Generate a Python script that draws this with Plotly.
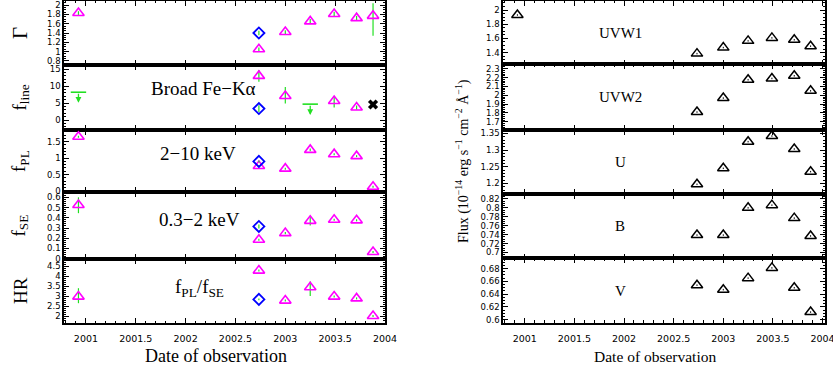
import plotly.graph_objects as go

# ---------------- data ----------------
dates = [2000.925, 2002.735, 2003.0, 2003.25, 2003.49, 2003.715, 2003.88]
dates_uv = [2002.735, 2003.0, 2003.25, 2003.49, 2003.715, 2003.88]
date_xmm = [2002.735]

# Gamma
gamma = [1.83, 1.05, 1.42, 1.65, 1.81, 1.72, 1.77]
gamma_ep = [0.04, 0.04, 0.04, 0.05, 0.05, 0.05, 0.27]
gamma_em = [0.04, 0.04, 0.04, 0.05, 0.05, 0.05, 0.43]
gamma_d = [1.40]
gamma_d_err = [0.05]

# f_line (broad Fe-K alpha)
fline_dates = [2002.735, 2003.0, 2003.49, 2003.715]
fline = [13.0, 7.1, 5.6, 3.7]
fline_ep = [1.7, 2.6, 1.5, 0.6]
fline_em = [1.7, 2.2, 1.9, 0.6]
fline_d = [3.4]
fline_d_err = [1.0]
fline_ul_dates = [2000.925, 2003.25]
fline_ul = [8.2, 4.7]
fline_ul_tip = [5.1, 1.5]
fline_x_dates = [2003.88]
fline_x = [4.6]

# f_PL (2-10 keV)
fpl = [1.65, 0.76, 0.68, 1.25, 1.12, 1.06, 0.13]
fpl_err = [0.03, 0.03, 0.03, 0.04, 0.03, 0.03, 0.03]
fpl_d = [0.90]
fpl_d_err = [0.03]

# f_SE (0.3-2 keV)
fse = [0.525, 0.185, 0.25, 0.37, 0.38, 0.375, 0.065]
fse_ep = [0.075, 0.01, 0.01, 0.045, 0.01, 0.01, 0.01]
fse_em = [0.08, 0.01, 0.01, 0.045, 0.01, 0.01, 0.01]
fse_d = [0.315]
fse_d_err = [0.02]

# HR = f_PL / f_SE
hr = [2.97, 4.27, 2.77, 3.44, 2.97, 2.88, 2.0]
hr_ep = [0.42, 0.05, 0.05, 0.28, 0.05, 0.05, 0.05]
hr_em = [0.33, 0.05, 0.05, 0.44, 0.05, 0.05, 0.05]
hr_d = [2.83]
hr_d_err = [0.04]

# Optical / UV fluxes (1e-14 erg/s/cm2/A)
uvw1 = [1.93, 1.385, 1.47, 1.565, 1.607, 1.58, 1.49]
uvw2 = [1.81, 1.968, 2.175, 2.19, 2.22, 2.05]
u_flux = [1.197, 1.245, 1.325, 1.342, 1.303, 1.235]
b_flux = [0.739, 0.739, 0.800, 0.806, 0.777, 0.737]
v_flux = [0.654, 0.647, 0.665, 0.681, 0.650, 0.612]

left_labels = ["Broad Fe\u2212K\u03b1", "2\u221210 keV", "0.3\u22122 keV", "f<sub>PL</sub>/f<sub>SE</sub>"]
left_titles = ["\u0393", "f<sub>line</sub>", "f<sub>PL</sub>", "f<sub>SE</sub>", "HR"]
right_labels = ["UVW1", "UVW2", "U", "B", "V"]

# ---------------- styling ----------------
W, H = 833, 373
MAG = "#ff00ff"
BLUE = "#0000ff"
GREEN = "#22e022"
SERIF = "Liberation Serif"
SANS = "DejaVu Sans"

left_bounds = [1, 65, 130, 192, 259, 323]
right_bounds = [1, 64.3, 130, 194, 258.3, 322.7]
left_x = [64, 385]
right_x = [503, 825]

left_yr = [[0.71, 2.09], [-2.9, 16.2], [-0.03, 1.855], [-0.003, 0.652], [1.65, 4.85]]
left_dt = [(0.2, 0.05), (5, 1), (0.5, 0.1), (0.1, 0.02), (0.5, 0.1)]
right_yr = [[1.234, 2.128], [1.607, 2.35], [1.168, 1.36], [0.687, 0.831], [0.5954, 0.696]]
right_dt = [(0.2, 0.05), (0.1, 0.02), (0.05, 0.01), (0.02, 0.005), (0.02, 0.005)]

fig = go.Figure()


def px_x(p):
    return p / W


def px_y(p):
    return 1 - p / H


layout = dict(width=W, height=H, margin=dict(l=0, r=0, t=0, b=0, autoexpand=False), autosize=False,
              paper_bgcolor="white", plot_bgcolor="white", showlegend=False)


def xaxis(n, xs, show):
    return dict(domain=[px_x(xs[0]), px_x(xs[1])], range=[2000.78, 2004.0 if xs is left_x else 2004.025],
                anchor=f"y{n}", showline=True, linecolor="black", linewidth=1.5,
                mirror="allticks", ticks="inside", ticklen=5, tickwidth=1.2, tickcolor="black",
                tick0=2001, dtick=0.5, tickformat="~g", ticklabelstandoff=6, ticklabeloverflow="allow",
                minor=dict(dtick=0.1, ticks="inside", ticklen=2.5, tickwidth=1, tickcolor="black", showgrid=False),
                showticklabels=show, showgrid=False, zeroline=False,
                tickfont=dict(family=SANS, size=9.5, color="black"))


def yaxis(n, bounds, k, yr, dt, xname):
    return dict(domain=[px_y(bounds[k + 1]), px_y(bounds[k])], range=yr, anchor=xname,
                showline=True, linecolor="black", linewidth=1.5, mirror="allticks",
                ticks="inside", ticklen=5, tickwidth=1.2, tickcolor="black",
                dtick=dt[0], tick0=0, ticklabeloverflow="allow",
                minor=dict(dtick=dt[1], ticks="inside", ticklen=2.5, tickwidth=1, tickcolor="black", showgrid=False),
                showgrid=False, zeroline=False,
                tickfont=dict(family=SANS, size=8.5, color="black"))


for k in range(5):
    n = k + 1
    layout[f"xaxis{n}"] = xaxis(n, left_x, k == 4)
    layout[f"yaxis{n}"] = yaxis(n, left_bounds, k, left_yr[k], left_dt[k], f"x{n}")
    m = k + 6
    layout[f"xaxis{m}"] = xaxis(m, right_x, k == 4)
    layout[f"yaxis{m}"] = yaxis(m, right_bounds, k, right_yr[k], right_dt[k], f"x{m}")

fig.update_layout(**layout)


def ax(n):
    return dict(xaxis=f"x{n}", yaxis=f"y{n}")


def tri(n, x, y, ep, em):
    fig.add_trace(go.Scatter(x=x, y=y, mode="markers", **ax(n),
                             marker=dict(symbol="triangle-up-open", size=10, color=MAG, line=dict(width=1.6, color=MAG)),
                             error_y=dict(type="data", array=ep, arrayminus=em, symmetric=False,
                                          color=GREEN, thickness=1.2, width=0)))


def dia(n, x, y, e):
    fig.add_trace(go.Scatter(x=x, y=y, mode="markers", **ax(n),
                             marker=dict(symbol="diamond-open", size=8.5, color=BLUE, line=dict(width=1.8, color=BLUE)),
                             error_y=dict(type="data", array=e, color=GREEN, thickness=1.2, width=0)))


# Left column
tri(1, dates, gamma, gamma_ep, gamma_em)
dia(1, date_xmm, gamma_d, gamma_d_err)

tri(2, fline_dates, fline, fline_ep, fline_em)
dia(2, date_xmm, fline_d, fline_d_err)
fig.add_trace(go.Scatter(x=fline_ul_dates, y=fline_ul, mode="markers", **ax(2),
                         marker=dict(symbol="line-ew-open", size=11, color=GREEN, line=dict(width=1.6, color=GREEN))))
for xd, lim, tip in zip(fline_ul_dates, fline_ul, fline_ul_tip):
    fig.add_annotation(x=xd, y=tip, ax=xd, ay=lim, xref="x2", yref="y2", axref="x2", ayref="y2",
                       showarrow=True, arrowhead=2, arrowsize=0.9, arrowwidth=1.3, arrowcolor=GREEN, text="")
fig.add_trace(go.Scatter(x=fline_x_dates, y=fline_x, mode="markers", **ax(2),
                         marker=dict(symbol="x", size=9, color="black", line=dict(width=0))))

tri(3, dates, fpl, fpl_err, fpl_err)
dia(3, date_xmm, fpl_d, fpl_d_err)

tri(4, dates, fse, fse_ep, fse_em)
dia(4, date_xmm, fse_d, fse_d_err)

tri(5, dates, hr, hr_ep, hr_em)
dia(5, date_xmm, hr_d, hr_d_err)

# Right column
right_series = [(dates, uvw1), (dates_uv, uvw2), (dates_uv, u_flux), (dates_uv, b_flux), (dates_uv, v_flux)]
for k, (xx, yy) in enumerate(right_series):
    n = k + 6
    span = right_yr[k][1] - right_yr[k][0]
    fig.add_trace(go.Scatter(x=xx, y=yy, mode="markers", **ax(n),
                             marker=dict(symbol="triangle-up-open", size=10, color="black", line=dict(width=1.5, color="black")),
                             error_y=dict(type="data", array=[span * 0.012] * len(yy), color="black", thickness=1, width=0)))


def label(xp, yp, text, size, angle=0):
    fig.add_annotation(x=px_x(xp), y=px_y(yp), xref="paper", yref="paper", text=text, showarrow=False,
                       xanchor="center", yanchor="middle", textangle=angle,
                       font=dict(family=SERIF, size=size, color="black"))


# Text labels
left_label_pos = [(203, 89), (198, 153), (199, 220), (199, 288)]
for t, (xp, yp) in zip(left_labels, left_label_pos):
    label(xp, yp, t, 19)

for k, t in enumerate(left_titles):
    yc = (left_bounds[k] + left_bounds[k + 1]) / 2
    label(20, yc, t, 19 if k else 21, -90)

for k, t in enumerate(right_labels):
    yc = (right_bounds[k] + right_bounds[k + 1]) / 2
    label(620, yc, t, 15)

label(462, 161, "Flux (10<sup>\u221214</sup> erg s<sup>\u22121</sup> cm<sup>\u22122</sup> \u00c5<sup>\u22121</sup>)", 14, -90)
label(216, 356, "Date of observation", 18)
label(655, 356, "Date of observation", 15.5)

fig.write_html("out.html", config={"displayModeBar": False},
               post_script="document.body.style.margin='0';document.body.style.overflow='hidden';")
